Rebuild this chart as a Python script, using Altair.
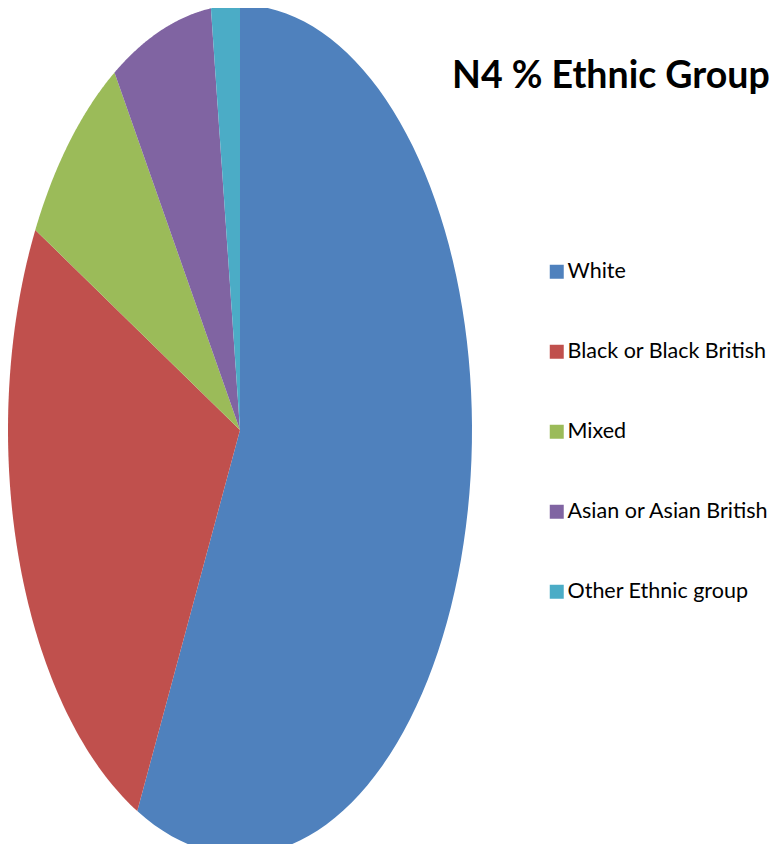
import altair as alt
import pandas as pd

categories = ["White", "Black or Black British", "Mixed", "Asian or Asian British", "Other Ethnic group"]
values = [57.3, 25.5, 8.1, 7.1, 2.0]
colors = ["#4F81BD", "#C0504D", "#9BBB59", "#8064A2", "#4BACC6"]
title_text = "N4 % Ethnic Group"

df = pd.DataFrame({"category": categories, "value": values, "idx": list(range(len(categories)))})

W, H = 765, 836
# ellipse: chart x 0..464 (center 232), chart y -3..847 (center 422)
rx, ry = 232.0, 425.0
cx, cy = 232.0, 422.0
xdom = [-cx / rx, (W - cx) / rx]
ydom = [(cy - H) / ry, cy / ry]

N = 90
pie = (
    alt.Chart(df)
    .transform_joinaggregate(total="sum(value)")
    .transform_window(cum="sum(value)", sort=[alt.SortField("idx")], frame=[None, 0])
    .transform_calculate(
        a0="2*PI*(datum.cum - datum.value)/datum.total",
        a1="2*PI*datum.cum/datum.total",
        steps=f"sequence(0, {N + 2})",
    )
    .transform_flatten(["steps"], as_=["step"])
    .transform_calculate(
        ang=f"datum.a0 + (datum.a1 - datum.a0)*(datum.step - 1)/{N}",
    )
    .transform_calculate(
        px="datum.step == 0 ? 0 : sin(datum.ang)",
        py="datum.step == 0 ? 0 : cos(datum.ang)",
    )
    .mark_line(interpolate="linear-closed", filled=True, opacity=1)
    .encode(
        x=alt.X("px:Q", scale=alt.Scale(domain=xdom, zero=False, nice=False), axis=None),
        y=alt.Y("py:Q", scale=alt.Scale(domain=ydom, zero=False, nice=False), axis=None),
        color=alt.Color(
            "category:N",
            scale=alt.Scale(domain=categories, range=colors),
            sort=categories,
            legend=alt.Legend(
                title=None,
                orient="none",
                legendX=538,
                legendY=253,
                symbolType="square",
                symbolSize=196,
                symbolStrokeWidth=0,
                symbolOpacity=1,
                labelFont="Lato",
                labelFontSize=21.5,
                labelColor="#000000",
                labelOffset=0,
                labelLimit=400,
                rowPadding=57,
                padding=0,
            ),
        ),
        order=alt.Order("step:Q"),
    )
)

title = (
    alt.Chart(pd.DataFrame({"t": [title_text]}))
    .mark_text(
        align="left",
        baseline="alphabetic",
        font="Lato",
        fontSize=37.5,
        fontWeight="bold",
        color="#000000",
    )
    .encode(text="t:N", x=alt.value(444), y=alt.value(80))
)

chart = (
    alt.layer(pie, title)
    .properties(width=W, height=H, padding=0, autosize=alt.AutoSizeParams(type="none"))
    .configure_view(stroke=None)
)

chart.save("out.html", embed_options={"renderer": "svg", "actions": False})
